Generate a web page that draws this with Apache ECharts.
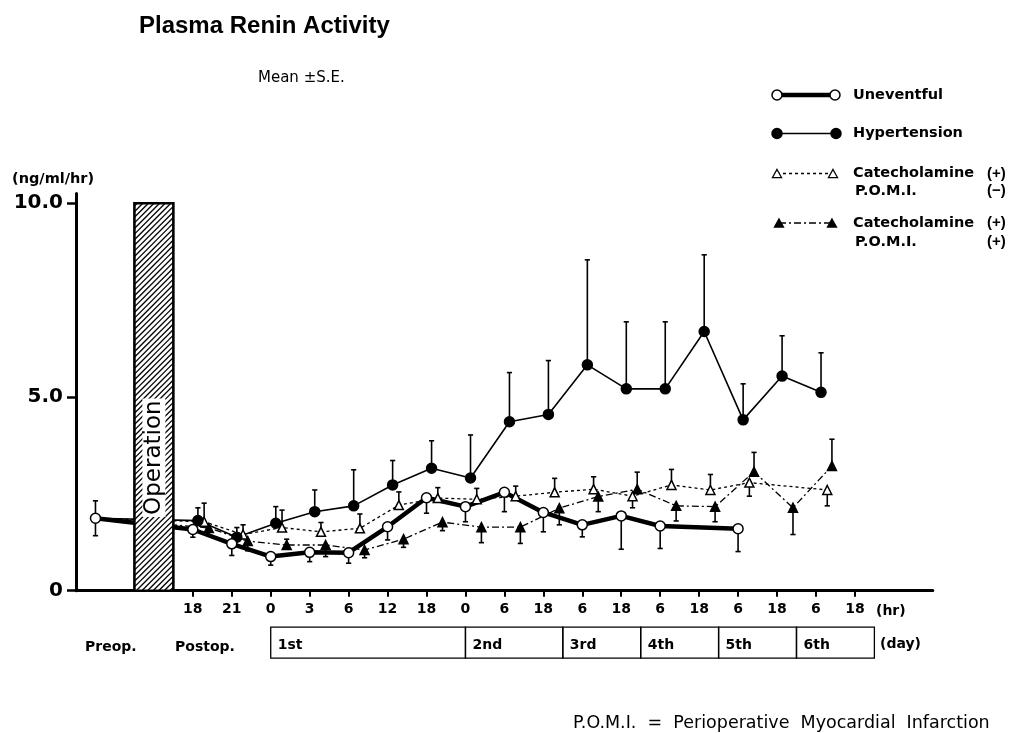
<!DOCTYPE html>
<html>
<head>
<meta charset="utf-8">
<title>Plasma Renin Activity</title>
<script src="https://cdn.jsdelivr.net/npm/echarts@6/dist/echarts.min.js"></script>
<style>
  html, body { margin: 0; padding: 0; background: #fff; }
  #chart { width: 1010px; height: 733px; }
</style>
</head>
<body>
<div id="chart"></div>
<script>
// ---- data ---------------------------------------------------------------
// Sampling slots along the time axis (hour of day); slots 0-1 are the
// operation day, then days 1..6 follow.
const hourLabels = ['18', '21', '0', '3', '6', '12', '18', '0', '6', '18', '6', '18', '6', '18', '6', '18', '6', '18'];
const dayLabels = ['1st', '2nd', '3rd', '4th', '5th', '6th'];
// Day boundaries in slot units (start of 1st day ... end of 6th day)
const dayBounds = [2, 7, 9.5, 11.5, 13.5, 15.5, 17.5];
const yTickValues = [0, 5, 10];
const yTickLabels = ['0', '5.0', '10.0'];

// Preoperative level common to all groups (mean, S.E.)
const preopMean = 1.87;
const preopSE = 0.45;

// Group means per slot (ng/ml/hr); null = no sample
const uneventful     = [1.58, 1.21, 0.88, 0.99, 0.98, 1.65, 2.40, 2.17, 2.54, 2.02, 1.70, 1.93, 1.67, null, 1.60, null, null, null];
const hypertension   = [1.81, 1.38, 1.74, 2.04, 2.19, 2.73, 3.16, 2.91, 4.36, 4.55, 5.83, 5.21, 5.21, 6.69, 4.41, 5.54, 5.12, null];
const catecholPomiNeg = [1.78, 1.45, 1.63, 1.52, 1.61, 2.21, 2.39, 2.36, 2.44, 2.54, 2.62, 2.44, 2.73, 2.60, 2.79, null, 2.60, null];
const catecholPomiPos = [1.62, 1.28, 1.18, 1.18, 1.05, 1.33, 1.77, 1.64, 1.64, 2.13, 2.43, 2.62, 2.19, 2.17, 3.07, 2.14, 3.22, null];

// S.E. per slot, drawn one-sided: positive = bar above the mean, negative = below
const uneventfulSE      = [-0.20, -0.30, -0.22, -0.24, -0.27, -0.34, -0.40, -0.39, -0.50, -0.50, -0.31, -0.86, -0.58, null, -0.59, null, null, null];
const hypertensionSE    = [0.33, 0.25, 0.43, 0.56, 0.93, 0.63, 0.71, 1.11, 1.27, 1.39, 2.71, 1.73, 1.73, 1.98, 0.93, 1.04, 1.02, null];
const catecholPomiNegSE = [0.48, 0.25, 0.45, 0.24, 0.37, 0.34, 0.27, 0.28, 0.26, 0.36, 0.32, -0.30, 0.40, 0.40, -0.35, null, -0.41, null];
const catecholPomiPosSE = [-0.20, -0.25, 0.15, -0.30, -0.20, -0.21, -0.22, -0.40, -0.42, -0.43, -0.39, 0.44, -0.39, -0.39, 0.50, -0.69, 0.69, null];

// ---- layout / style -----------------------------------------------------
const INK = '#000';
const FONT = '"DejaVu Sans", "Liberation Sans", sans-serif';
const NARROW = '"Liberation Sans", Arial, sans-serif';
const PREOP_X = -2.5;            // preoperative sample sits left of the operation
const OPERATION_SPAN = [-1.5, -0.5];

const groups = [
  { key: 'pomiPos', name: 'Catecholamine (+) P.O.M.I. (+)', values: catecholPomiPos, se: catecholPomiPosSE,
    dx: 0.41, symbol: 'triangle', size: 9, fill: INK, lineWidth: 1.3, dash: [7, 3, 2, 3] },
  { key: 'pomiNeg', name: 'Catecholamine (+) P.O.M.I. (-)', values: catecholPomiNeg, se: catecholPomiNegSE,
    dx: 0.29, symbol: 'triangle', size: 9, fill: '#fff', lineWidth: 1.3, dash: [3, 3] },
  { key: 'hyper', name: 'Hypertension', values: hypertension, se: hypertensionSE,
    dx: 0.13, symbol: 'circle', size: 10, fill: INK, lineWidth: 1.6, dash: 'solid' },
  { key: 'unev', name: 'Uneventful', values: uneventful, se: uneventfulSE,
    dx: 0, symbol: 'circle', size: 10, fill: '#fff', lineWidth: 4.5, dash: 'solid', preopMarker: true }
];

// ---- series -------------------------------------------------------------
const errorData = [
  [PREOP_X, preopMean, preopMean + preopSE],
  [PREOP_X, preopMean, preopMean - preopSE]
];
groups.forEach(g => {
  g.values.forEach((v, i) => {
    if (v != null && g.se[i] != null) errorData.push([i + g.dx, v, v + g.se[i]]);
  });
});

function renderErrorBar(params, api) {
  const x = api.value(0);
  const p0 = api.coord([x, api.value(1)]);
  const p1 = api.coord([x, api.value(2)]);
  const st = { stroke: INK, lineWidth: 1.6 };
  return {
    type: 'group',
    children: [
      { type: 'line', shape: { x1: p0[0], y1: p0[1], x2: p1[0], y2: p1[1] }, style: st },
      { type: 'line', shape: { x1: p1[0] - 2.6, y1: p1[1], x2: p1[0] + 2.6, y2: p1[1] }, style: st }
    ]
  };
}

function renderOperation(params, api) {
  const tl = api.coord([api.value(0), api.value(3)]);
  const br = api.coord([api.value(1), api.value(2)]);
  const x0 = tl[0], y0 = tl[1], x1 = br[0], y1 = br[1];
  const children = [
    { type: 'rect', shape: { x: x0, y: y0, width: x1 - x0, height: y1 - y0 }, style: { fill: '#fff' } }
  ];
  // diagonal hatching "/" clipped to the bar
  const step = 5.6;
  for (let c = x0 + y0 + step / 2; c < x1 + y1; c += step) {
    const xa = Math.max(x0, c - y1);
    const xb = Math.min(x1, c - y0);
    if (xb <= xa) continue;
    children.push({ type: 'line', shape: { x1: xa, y1: c - xa, x2: xb, y2: c - xb },
      style: { stroke: INK, lineWidth: 1.3 } });
  }
  children.push({ type: 'rect', shape: { x: x0, y: y0, width: x1 - x0, height: y1 - y0 },
    style: { fill: 'none', stroke: INK, lineWidth: 2.6 } });
  children.push({
    type: 'text', x: (x0 + x1) / 2, y: y1 - 133, rotation: Math.PI / 2,
    style: { text: 'Operation', font: '23px ' + FONT, fill: INK, align: 'center', verticalAlign: 'middle',
      backgroundColor: '#fff', padding: [0, 2] }
  });
  return { type: 'group', children };
}

function renderDay(params, api) {
  const from = api.value(0), to = api.value(1);
  const base = api.coord([0, 0])[1];
  const x0 = api.coord([from, 0])[0];
  const x1 = api.coord([to, 0])[0];
  return {
    type: 'group',
    children: [
      { type: 'rect', shape: { x: x0, y: base + 36.5, width: x1 - x0, height: 31 },
        style: { fill: 'none', stroke: INK, lineWidth: 1.3 } },
      { type: 'text', x: x0 + 7, y: base + 54.5,
        style: { text: dayLabels[params.dataIndex], font: 'bold 14px ' + FONT, fill: INK,
          align: 'left', verticalAlign: 'middle' } }
    ]
  };
}

const lineSeries = groups.map(g => {
  const data = [{ value: [PREOP_X, preopMean], symbol: g.preopMarker ? g.symbol : 'none' }];
  g.values.forEach((v, i) => { if (v != null) data.push([i + g.dx, v]); });
  return {
    type: 'line', name: g.name, data, z: 4,
    symbol: g.symbol, symbolSize: g.size, showAllSymbol: true,
    itemStyle: { color: g.fill, borderColor: INK, borderWidth: 1.5 },
    lineStyle: { color: INK, width: g.lineWidth, type: g.dash },
    emphasis: { disabled: true }
  };
});

const hourTicks = hourLabels.map((_, i) => i);

// ---- legend (drawn as graphics) ------------------------------------------
function marker(g, cx, cy) {
  if (g.symbol === 'circle') {
    return { type: 'circle', shape: { cx, cy, r: g.size / 2 }, style: { fill: g.fill, stroke: INK, lineWidth: 1.5 }, z: 10 };
  }
  const h = g.size * 0.9, w = g.size / 2;
  return { type: 'polygon', shape: { points: [[cx, cy - h / 2], [cx + w, cy + h / 2], [cx - w, cy + h / 2]] },
    style: { fill: g.fill, stroke: INK, lineWidth: 1.3 }, z: 10 };
}
function legendRow(g, y, xa, xb) {
  return [
    { type: 'line', shape: { x1: xa, y1: y, x2: xb, y2: y },
      style: { stroke: INK, lineWidth: g.lineWidth, lineDash: Array.isArray(g.dash) ? g.dash : null }, z: 9 },
    marker(g, xa, y), marker(g, xb, y)
  ];
}
function txt(text, x, y, font, align) {
  return { type: 'text', x, y, z: 10,
    style: { text, font, fill: INK, align: align || 'left', verticalAlign: 'middle' } };
}
const LG = 'bold 14.5px ' + FONT;
const SIGN = 'bold 15px ' + NARROW;
const byKey = k => groups.find(g => g.key === k);

const graphics = [
  txt('Plasma Renin Activity', 139, 26, 'bold 24px ' + NARROW),
  txt('Mean \u00B1S.E.', 258, 78, '15px ' + FONT),
  txt('(ng/ml/hr)', 12, 179, 'bold 14.5px ' + FONT),
  txt('(hr)', 876, 611, 'bold 14px ' + FONT),
  txt('Preop.', 85, 647, 'bold 14px ' + FONT),
  txt('Postop.', 175, 647, 'bold 14px ' + FONT),
  txt('(day)', 880, 644, 'bold 14px ' + FONT),
  txt('P.O.M.I.  =  Perioperative  Myocardial  Infarction', 573, 723, '17.5px ' + FONT),

  ...legendRow(byKey('unev'), 95, 777, 835),
  txt('Uneventful', 853, 95, LG),
  ...legendRow(byKey('hyper'), 133.5, 777, 836),
  txt('Hypertension', 853, 133.5, LG),
  ...legendRow(byKey('pomiNeg'), 173.5, 777, 833),
  txt('Catecholamine', 853, 173.5, LG),
  txt('(+)', 987, 173.5, SIGN),
  txt('P.O.M.I.', 855, 191, LG),
  txt('(\u2212)', 987, 191, SIGN),
  ...legendRow(byKey('pomiPos'), 223, 779, 832),
  txt('Catecholamine', 853, 223, LG),
  txt('(+)', 987, 223, SIGN),
  txt('P.O.M.I.', 855, 242, LG),
  txt('(+)', 987, 242, SIGN)
];

// ---- chart --------------------------------------------------------------
const chart = echarts.init(document.getElementById('chart'));
chart.setOption({
  animation: false,
  backgroundColor: '#fff',
  grid: { left: 76, right: 77.2, top: 193.6, bottom: 142.3 },
  xAxis: {
    type: 'value', min: -3, max: 19, interval: 1,
    axisLine: { show: true, onZero: false, lineStyle: { color: INK, width: 3 } },
    axisTick: { show: true, customValues: hourTicks, length: 6, lineStyle: { color: INK, width: 2 } },
    axisLabel: { show: true, customValues: hourTicks, formatter: v => hourLabels[v] || '',
      color: INK, fontFamily: FONT, fontWeight: 'bold', fontSize: 14, margin: 12 },
    splitLine: { show: false }
  },
  yAxis: {
    type: 'value', min: 0, max: 10.25,
    axisLine: { show: true, onZero: false, lineStyle: { color: INK, width: 3 } },
    axisTick: { show: true, customValues: yTickValues, length: 9, lineStyle: { color: INK, width: 2.5 } },
    axisLabel: { show: true, customValues: yTickValues,
      formatter: v => yTickLabels[yTickValues.indexOf(v)] || '',
      color: INK, fontFamily: FONT, fontWeight: 'bold', fontSize: 20, margin: 13 },
    splitLine: { show: false }
  },
  series: [
    { type: 'custom', name: 'S.E.', renderItem: renderErrorBar, data: errorData,
      encode: { x: 0, y: [1, 2] }, z: 3, clip: false, silent: true },
    ...lineSeries,
    { type: 'custom', name: 'Operation', renderItem: renderOperation,
      data: [[OPERATION_SPAN[0], OPERATION_SPAN[1], 0, 10]],
      encode: { x: [0, 1], y: [2, 3] }, z: 8, clip: false, silent: true },
    { type: 'custom', name: 'Days', renderItem: renderDay,
      data: dayLabels.map((_, i) => [dayBounds[i], dayBounds[i + 1]]),
      encode: { x: [0, 1] }, z: 8, clip: false, silent: true }
  ],
  graphic: graphics
});
</script>
</body>
</html>
